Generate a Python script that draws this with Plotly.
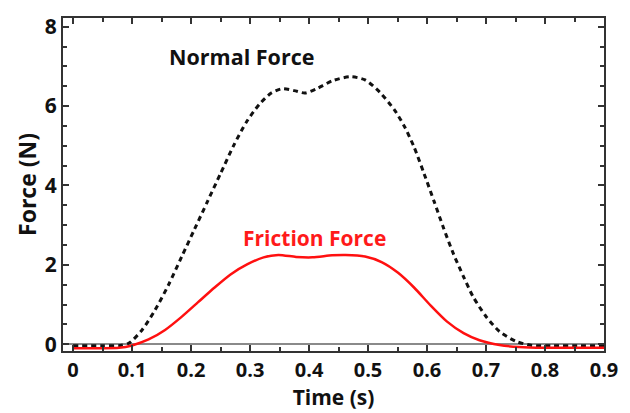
import plotly.graph_objects as go

# Normal force (dashed black)
normal_t = [0, 0.05, 0.08, 0.095, 0.117, 0.139, 0.162, 0.184, 0.206, 0.228, 0.25, 0.272,
            0.294, 0.316, 0.336, 0.355, 0.375, 0.393, 0.412, 0.44, 0.47, 0.495,
            0.52, 0.545, 0.562, 0.578, 0.595, 0.612, 0.628, 0.645, 0.662, 0.678, 0.7,
            0.723, 0.751, 0.778, 0.812, 0.86, 0.9]
normal_f = [-0.04, -0.04, -0.03, 0.03, 0.36, 0.86, 1.5, 2.2, 2.9, 3.6, 4.3, 5.0,
            5.6, 6.05, 6.33, 6.44, 6.39, 6.33, 6.43, 6.64, 6.74, 6.66,
            6.35, 5.9, 5.48, 4.97, 4.3, 3.6, 2.93, 2.27, 1.7, 1.2, 0.7,
            0.32, 0.07, -0.03, -0.04, -0.04, -0.04]

# Friction force (solid red)
friction_t = [0, 0.045, 0.078, 0.1, 0.128, 0.156, 0.184, 0.212, 0.24, 0.267, 0.295, 0.323,
              0.348, 0.378, 0.406, 0.439, 0.462, 0.495, 0.523, 0.551, 0.578, 0.606,
              0.634, 0.662, 0.689, 0.723, 0.756, 0.8, 0.85, 0.9]
friction_f = [-0.1, -0.1, -0.09, -0.03, 0.12, 0.36, 0.69, 1.06, 1.43, 1.76, 2.01, 2.19,
              2.25, 2.2, 2.19, 2.24, 2.25, 2.21, 2.07, 1.8, 1.43, 0.98,
              0.57, 0.28, 0.1, -0.02, -0.07, -0.09, -0.09, -0.09]

x_ticks = [0, 0.1, 0.2, 0.3, 0.4, 0.5, 0.6, 0.7, 0.8, 0.9]
x_labels = ["0", "0.1", "0.2", "0.3", "0.4", "0.5", "0.6", "0.7", "0.8", "0.9"]
y_ticks = [0, 2, 4, 6, 8]
y_labels = ["0", "2", "4", "6", "8"]

FONT = "Open Sans"

fig = go.Figure()
fig.add_trace(go.Scatter(x=normal_t, y=normal_f, mode="lines",
                         line=dict(color="#111111", width=3, dash="5px,4px",
                                   shape="spline", smoothing=0.7),
                         showlegend=False))
fig.add_trace(go.Scatter(x=friction_t, y=friction_f, mode="lines",
                         line=dict(color="#ff1010", width=2.5,
                                   shape="spline", smoothing=0.7),
                         showlegend=False))

fig.add_annotation(x=0.285, y=7.25, text="Normal Force", showarrow=False,
                   font=dict(family=FONT, size=21.5, color="#111111", weight="bold"))
fig.add_annotation(x=0.41, y=2.68, text="Friction Force", showarrow=False,
                   font=dict(family=FONT, size=21, color="#ff1a1a", weight="bold"))

axis_common = dict(showline=True, linecolor="#333333", linewidth=2, mirror="ticks",
                   ticks="inside", ticklen=6, tickwidth=1.5, tickcolor="#333333",
                   showgrid=False)

fig.update_xaxes(range=[-0.017, 0.9], tickvals=x_ticks, ticktext=x_labels,
                 tickfont=dict(family=FONT, size=20, color="#111111", weight="bold"),
                 title=dict(text="Time (s)", standoff=3,
                            font=dict(family=FONT, size=21, color="#111111", weight="bold")),
                 minor=dict(ticks="inside", ticklen=4, tickcolor="#333333", dtick=0.05,
                            tick0=0, showgrid=False),
                 zeroline=False, **axis_common)
fig.update_yaxes(range=[-0.17, 8.22], tickvals=y_ticks, ticktext=y_labels,
                 tickfont=dict(family=FONT, size=21, color="#111111", weight="bold"),
                 title=dict(text="Force (N)", standoff=2,
                            font=dict(family=FONT, size=23, color="#111111", weight="bold")),
                 minor=dict(ticks="inside", ticklen=4, tickcolor="#333333", dtick=0.5,
                            tick0=0, showgrid=False),
                 zeroline=True, zerolinecolor="#8a8a8a", zerolinewidth=2,
                 **axis_common)

fig.update_layout(width=630, height=413, margin=dict(l=63, r=17, t=15, b=58),
                  plot_bgcolor="white", paper_bgcolor="white")

fig.write_html("out.html")
